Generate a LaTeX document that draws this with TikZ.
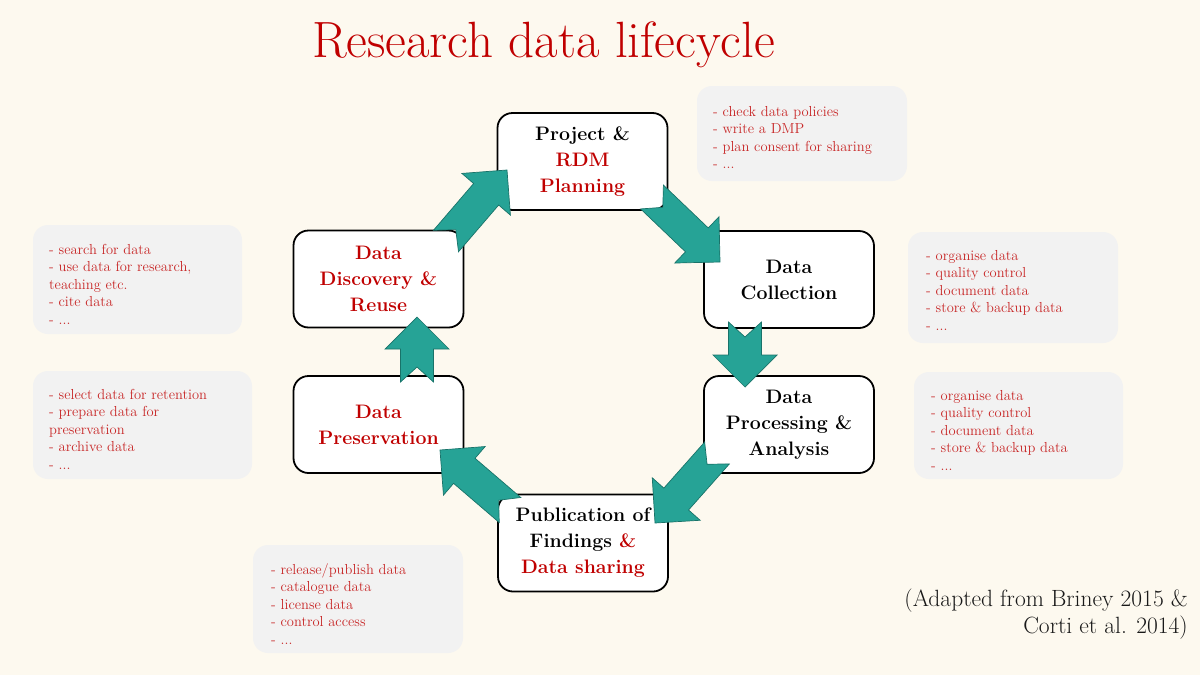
\documentclass[tikz,border=0pt]{standalone}
\usetikzlibrary{calc}
\definecolor{bgcream}{RGB}{253,249,239}
\definecolor{titlered}{RGB}{192,0,0}
\definecolor{notered}{RGB}{200,40,40}
\definecolor{notegray}{RGB}{242,242,242}
\definecolor{tealfill}{RGB}{38,163,150}
\definecolor{tealline}{RGB}{25,115,105}
\definecolor{citegray}{RGB}{25,25,25}
\tikzset{
  stage/.style={draw=black, line width=1.8pt, rounded corners=15pt, fill=white,
    minimum width=170pt, minimum height=97pt, inner sep=0pt, align=center,
    text=black, font=\bfseries\fontsize{19.5}{26}\selectfont},
  notebox/.style={fill=notegray, rounded corners=15pt, inner sep=0pt},
  notetext/.style={anchor=base west, inner sep=0pt, align=left, text=notered,
    font=\fontsize{14.5}{17.6}\selectfont},
  flowarrow/.style={fill=tealfill, draw=tealline, line width=0.7pt, line join=miter},
}
\newcommand\blockarrow[2]{%
  \coordinate (hb) at ($(#2)!32pt!(#1)$);
  \filldraw[flowarrow] ($(#1)!16.5pt!90:(#2)$) -- ($(hb)!16.5pt!90:(#2)$) -- ($(hb)!32pt!90:(#2)$) -- (#2)
    -- ($(hb)!32pt!-90:(#2)$) -- ($(hb)!16.5pt!-90:(#2)$) -- ($(#1)!16.5pt!-90:(#2)$) -- ($(#1)!15pt!(#2)$) -- cycle;
}
\begin{document}
\begin{tikzpicture}[x=1pt, y=-1pt]
\fill[bgcream] (0,0) rectangle (1200,675);
\useasboundingbox (0,0) rectangle (1200,675);

% title
\node[anchor=base, inner sep=0pt, text=titlered, font=\fontsize{51}{58}\selectfont] (title) at (543.5,57) {Research data lifecycle};

% note boxes
\node[notebox, minimum width=210pt, minimum height=95pt] (topnote) at (802,133.5) {};
\node[notebox, minimum width=210pt, minimum height=111pt] (rnote1) at (1013,287.5) {};
\node[notebox, minimum width=209pt, minimum height=107pt] (rnote2) at (1018.5,425.5) {};
\node[notebox, minimum width=209pt, minimum height=109pt] (lnote1) at (137.5,279.5) {};
\node[notebox, minimum width=219pt, minimum height=108pt] (lnote2) at (142.5,425) {};
\node[notebox, minimum width=210pt, minimum height=108pt] (bnote) at (358,599) {};

% note texts (anchored at the baseline of their last line)
\node[notetext] (toptext) at (713,168.8) {- check data policies\\- write a DMP\\- plan consent for sharing\\- ...};
\node[notetext] (r1text) at (926,330.4) {- organise data\\- quality control\\- document data\\- store \& backup data\\- ...};
\node[notetext] (r2text) at (931,470.4) {- organise data\\- quality control\\- document data\\- store \& backup data\\- ...};
\node[notetext] (l1text) at (49,324.4) {- search for data\\- use data for research,\\teaching etc.\\- cite data\\- ...};
\node[notetext] (l2text) at (49,469.4) {- select data for retention\\- prepare data for\\preservation\\- archive data\\- ...};
\node[notetext] (btext) at (271,644.4) {- release/publish data\\- catalogue data\\- license data\\- control access\\- ...};

% stages
\node[stage] (plan) at (582.5,161.5) {Project \&\\\textcolor{titlered}{RDM}\\\textcolor{titlered}{Planning}};
\node[stage] (coll) at (789,279.5) {Data\\Collection};
\node[stage] (proc) at (789,424.5) {Data\\Processing \&\\Analysis};
\node[stage] (publ) at (583,543) {Publication of\\Findings \textcolor{titlered}{\&}\\\textcolor{titlered}{Data sharing}};
\node[stage, text=titlered] (pres) at (378.5,424.5) {Data\\Preservation};
\node[stage, text=titlered] (disc) at (378.5,279) {Data\\Discovery \&\\Reuse};

% arrow ends
\coordinate (a1t) at (446,241);  \coordinate (a1h) at (507,170);
\coordinate (a2t) at (652,197);  \coordinate (a2h) at (720,262);
\coordinate (a3t) at (745,322);  \coordinate (a3h) at (745,387);
\coordinate (a4t) at (717,453);  \coordinate (a4h) at (655,523);
\coordinate (a5t) at (510,510);  \coordinate (a5h) at (440,450);
\coordinate (a6t) at (417,382);  \coordinate (a6h) at (417,317);
\blockarrow{a1t}{a1h}
\blockarrow{a2t}{a2h}
\blockarrow{a3t}{a3h}
\blockarrow{a4t}{a4h}
\blockarrow{a5t}{a5h}
\blockarrow{a6t}{a6h}

% citation (anchored at the baseline of its last line)
\node[anchor=base east, inner sep=0pt, align=right, text=citegray, font=\fontsize{23.5}{26.5}\selectfont] (cite) at (1188,633) {(Adapted from Briney 2015 \&\\Corti et al. 2014)};
\end{tikzpicture}
\end{document}
